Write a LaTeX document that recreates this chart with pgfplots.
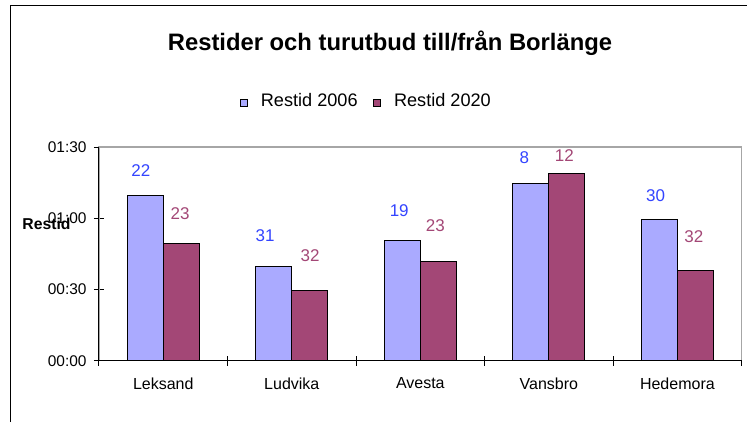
\documentclass[border=0pt]{standalone}
\usepackage{pgfplots}
\pgfplotsset{compat=1.18}
\usepackage{pgfplotstable}
\usepackage{fontspec}
\setmainfont{Liberation Sans}
\definecolor{cA}{HTML}{AAAAFF}
\definecolor{cB}{HTML}{A34776}
\definecolor{lA}{HTML}{3344FF}
\definecolor{lB}{HTML}{A34776}
\definecolor{plotgray}{HTML}{A6A6A6}

\pgfplotstableread{
x y
0 69.4
1 39.9
2 50.7
3 74.6
4 59.6
}\restidA
\pgfplotstableread{
x y
0 49.4
1 29.4
2 41.7
3 78.8
4 37.9
}\restidB
\pgfplotstableread{
x y label
-0.175 79.9 22
0.793 52.5 31
1.836 63.1 19
2.81 85.6 8
3.83 69.4 30
}\labelsA
\pgfplotstableread{
x y label
0.131 62.0 23
1.143 44.1 32
2.117 57.1 23
3.121 86.2 12
4.128 52.2 32
}\labelsB

\begin{document}
\begin{tikzpicture}
\path[use as bounding box] (0,0) rectangle (563.25pt,316.5pt);
\draw[black, line width=0.75pt] (7.5pt,0pt) -- (7.5pt,312pt) -- (560.25pt,312pt);
\begin{axis}[
  at={(74.25pt,45.9pt)}, anchor=south west,
  scale only axis, width=482pt, height=160.35pt,
  xmin=-0.5, xmax=4.5, ymin=0, ymax=90,
  xtick={-0.5,0.5,1.5,2.5,3.5,4.5}, xticklabels={},
  extra x ticks={0,1,2,3,4},
  extra x tick labels={Leksand,Ludvika,Avesta,Vansbro,Hedemora},
  extra x tick style={major tick length=0pt},
  ytick={0,30,60,90}, yticklabels={00:00,00:30,01:00,01:30},
  tick pos=left, tick align=center,
  major tick length=7.8pt,
  tick style={black, line width=0.75pt},
  axis line style={draw=plotgray, line width=1pt},
  xticklabel style={font=\fontsize{12}{14}\selectfont, inner sep=0pt, anchor=north, yshift=-12.5pt},
  yticklabel style={font=\fontsize{11.6}{14}\selectfont, inner sep=0pt, anchor=east, xshift=-5.25pt},
  ylabel={Restid},
  ylabel style={at={(axis description cs:-0.0817,0.64)}, anchor=center, rotate=-90, font=\bfseries\fontsize{11.8}{14}\selectfont, inner sep=0pt},
  title={Restider och turutbud till/från Borlänge},
  title style={at={(axis description cs:0.4528,1.449)}, anchor=center, yshift=0pt, font=\bfseries\fontsize{17.85}{21}\selectfont, inner sep=0pt},
  legend columns=2,
  legend style={draw=none, fill=none, at={(axis description cs:0.4147,1.215)}, anchor=center,
    inner sep=0pt, font=\fontsize{13.6}{16}\selectfont,
    nodes={inner sep=0pt, anchor=base west},
    /tikz/every odd column/.append style={column sep=9.75pt},
    /tikz/every even column/.append style={column sep=11.8pt}},
  sq legend/.style={legend image code/.code={\draw[##1, draw=black, line width=0.5pt] (0pt,0.3pt) rectangle (5.25pt,5.55pt);}},
  clip=false,
]
\addplot[ybar, bar width=0.28, bar shift=-0.14, fill=cA, draw=black, line width=0.75pt, sq legend] table[x=x,y=y] {\restidA};
\addlegendentry{Restid 2006}
\addplot[ybar, bar width=0.28, bar shift=0.14, fill=cB, draw=black, line width=0.75pt, sq legend] table[x=x,y=y] {\restidB};
\addlegendentry{Restid 2020}
\addplot[draw=none, mark=none, forget plot, nodes near coords, point meta=explicit symbolic,
  nodes near coords align=center,
  every node near coord/.append style={font=\fontsize{12.75}{15}\selectfont, text=lA, inner sep=0pt}]
  table[x=x,y=y,meta=label] {\labelsA};
\addplot[draw=none, mark=none, forget plot, nodes near coords, point meta=explicit symbolic,
  nodes near coords align=center,
  every node near coord/.append style={font=\fontsize{12.75}{15}\selectfont, text=lB, inner sep=0pt}]
  table[x=x,y=y,meta=label] {\labelsB};
\draw[black, line width=0.75pt] (rel axis cs:0,1) -- (rel axis cs:0,0) -- (rel axis cs:1,0);
\end{axis}
\end{tikzpicture}
\end{document}
